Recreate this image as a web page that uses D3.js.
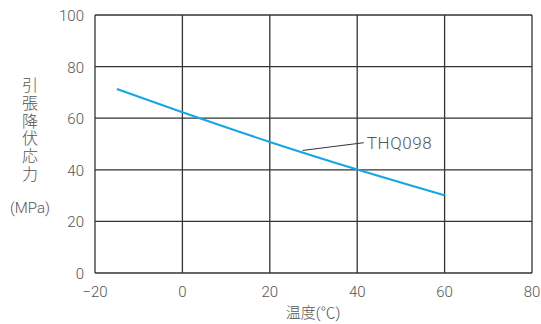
<!DOCTYPE html>
<html>
<head>
<meta charset="utf-8">
<script src="https://cdn.jsdelivr.net/npm/d3@7"></script>
<style>
  body { margin: 0; background: #fff; }
  svg text { font-family: Roboto, "Noto Sans CJK JP", sans-serif; fill: #555; font-weight: 300; }
</style>
</head>
<body>
<svg id="chart" width="541" height="324"></svg>
<script>
// temperature (°C) vs tensile yield stress (MPa)
var temps = [-15, 0, 20, 40, 60];
var stress = [71.3, 62.3, 50.8, 40.1, 30.1];
var xTicks = [-20, 0, 20, 40, 60, 80];
var yTicks = [0, 20, 40, 60, 80, 100];
var seriesName = "THQ098";
var yTitleChars = ["引", "張", "降", "伏", "応", "力"];

var svg = d3.select("#chart");
var margin = { left: 95, right: 9, top: 15, bottom: 51 };
var width = 541 - margin.left - margin.right,
    height = 324 - margin.top - margin.bottom;

var x = d3.scaleLinear().domain([-20, 80]).range([margin.left, margin.left + width]);
var y = d3.scaleLinear().domain([0, 100]).range([margin.top + height, margin.top]);

// grid
var grid = svg.append("g").attr("class", "grid");
grid.selectAll("line.v")
    .data(xTicks)
    .enter().append("line")
    .attr("x1", function (d) { return x(d); })
    .attr("x2", function (d) { return x(d); })
    .attr("y1", y(0))
    .attr("y2", y(100))
    .attr("stroke", "#333")
    .attr("stroke-width", 1.3);
grid.selectAll("line.h")
    .data(yTicks)
    .enter().append("line")
    .attr("y1", function (d) { return y(d); })
    .attr("y2", function (d) { return y(d); })
    .attr("x1", x(-20))
    .attr("x2", x(80))
    .attr("stroke", "#333")
    .attr("stroke-width", 1.3);

// tick labels
svg.append("g").selectAll("text")
    .data(xTicks)
    .enter().append("text")
    .attr("x", function (d) { return x(d); })
    .attr("y", y(0) + 24)
    .attr("text-anchor", "middle")
    .attr("font-size", "15px")
    .text(function (d) { return d < 0 ? "\u2212" + Math.abs(d) : d; });

svg.append("g").selectAll("text")
    .data(yTicks)
    .enter().append("text")
    .attr("x", x(-20) - 11)
    .attr("y", function (d) { return y(d) + 6; })
    .attr("text-anchor", "end")
    .attr("font-size", "15px")
    .text(function (d) { return d; });

// axis titles
svg.append("text")
    .attr("x", 313)
    .attr("y", 318)
    .attr("text-anchor", "middle")
    .attr("font-size", "15px")
    .text("温度(℃)");

svg.append("g").selectAll("text")
    .data(yTitleChars)
    .enter().append("text")
    .attr("x", 30)
    .attr("y", function (d, i) { return 91 + i * 17.8; })
    .attr("text-anchor", "middle")
    .attr("font-size", "16px")
    .text(function (d) { return d; });

svg.append("text")
    .attr("x", 30)
    .attr("y", 213)
    .attr("text-anchor", "middle")
    .attr("font-size", "15px")
    .text("(MPa)");

// curve
var line = d3.line()
    .x(function (d, i) { return x(temps[i]); })
    .y(function (d) { return y(d); })
    .curve(d3.curveMonotoneX);

svg.append("path")
    .datum(stress)
    .attr("d", line)
    .attr("fill", "none")
    .attr("stroke", "#13a6e8")
    .attr("stroke-width", 2);

// leader line + label
svg.append("line")
    .attr("x1", x(27.5))
    .attr("y1", y(47.5))
    .attr("x2", x(41.5))
    .attr("y2", y(50.5))
    .attr("stroke", "#333")
    .attr("stroke-width", 1);

svg.append("text")
    .attr("x", x(42.2))
    .attr("y", y(50.5) + 6)
    .attr("font-size", "17px")
    .attr("letter-spacing", "0.6px")
    .text(seriesName);
</script>
</body>
</html>
